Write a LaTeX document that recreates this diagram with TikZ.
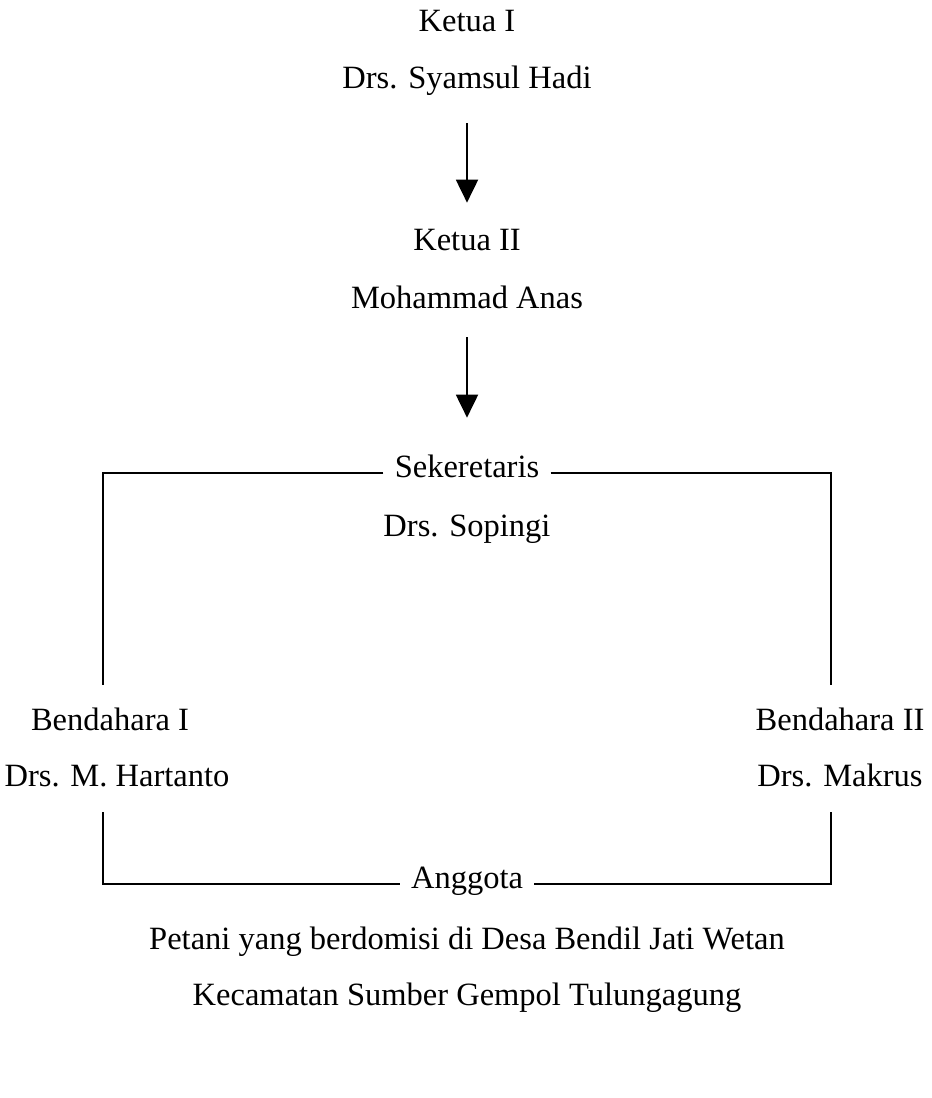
\documentclass[tikz,border=0pt]{standalone}
\usepackage{fontspec}
\setmainfont{Liberation Serif}
\usetikzlibrary{positioning, arrows.meta}
\tikzset{
    jabatan/.style={inner sep=0pt, anchor=base, font=\fontsize{18.5}{22}\selectfont, text height=0.44cm, text depth=0.14cm},
    jabatanlin/.style={jabatan, inner xsep=0.22cm},
    garis/.style={line width=1.1pt, color=black},
    panah/.style={-{Triangle[length=0.46cm, width=0.44cm]}, line width=1.1pt, color=black}
}
\begin{document}
\begin{tikzpicture}[x=0.02cm, y=-0.02cm]
        \useasboundingbox (0,0) rectangle (932,1098);
        \node[jabatan]    (k1)   at (467, 32)  {Ketua I};
        \node[jabatan]    (k1n)  at (467, 89)  {Drs. Syamsul Hadi};
        \node[jabatan]    (k2)   at (467,251)  {Ketua II};
        \node[jabatan]    (k2n)  at (467,308)  {Mohammad Anas};
        \node[jabatanlin] (sek)  at (467,477)  {Sekeretaris};
        \node[jabatan]    (sekn) at (467,536)  {Drs. Sopingi};
        \node[jabatan]    (b1)   at (110,730)  {Bendahara I};
        \node[jabatan]    (b1n)  at (117,786)  {Drs. M. Hartanto};
        \node[jabatan]    (b2)   at (840,730)  {Bendahara II};
        \node[jabatan]    (b2n)  at (840,786)  {Drs. Makrus};
        \node[jabatanlin] (ang)  at (467,888)  {Anggota};
        \node[jabatan]    (ang1) at (467,949)  {Petani yang berdomisi di Desa Bendil Jati Wetan};
        \node[jabatan]    (ang2) at (467,1005) {Kecamatan Sumber Gempol Tulungagung};
        \draw[panah, shorten <=0.54cm, shorten >=0.52cm] (k1n.south) -- (k2.north);
        \draw[panah, shorten <=0.44cm, shorten >=0.74cm] (k2n.south) -- (sek.north);
        \draw[garis, shorten >=0.46cm] ([yshift=0.08cm]sek.base west) -| ([xshift=-0.14cm]b1.north);
        \draw[garis, shorten >=0.46cm] ([yshift=0.08cm]sek.base east) -| ([xshift=-0.18cm]b2.north);
        \draw[garis, shorten <=0.38cm] ([xshift=-0.28cm]b1n.south) |- ([yshift=0.08cm]ang.base west);
        \draw[garis, shorten <=0.38cm] ([xshift=-0.18cm]b2n.south) |- ([yshift=0.08cm]ang.base east);
\end{tikzpicture}
\end{document}
